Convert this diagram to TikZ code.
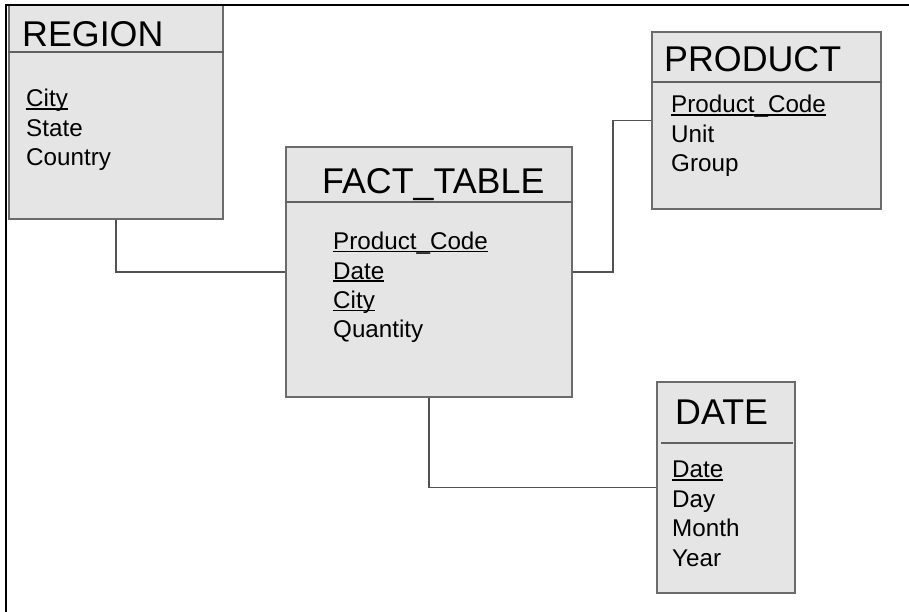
\documentclass[tikz,border=0pt]{standalone}
\usepackage{fontspec}
\setmainfont{Liberation Sans}
\usetikzlibrary{positioning}
% key attribute: underlined just under the baseline
\newcommand{\pk}[1]{\setbox0\hbox{#1}\rlap{\rule[-2.6pt]{\wd0}{1.5pt}}\box0}
\tikzset{
  tablebox/.style={draw=black!58, fill=black!10, line width=1.5pt, inner sep=0pt},
  sepline/.style={draw=black!62, line width=1.4pt},
  titletext/.style={font=\fontsize{35.8}{42}\selectfont, anchor=base west, inner sep=0pt},
  fieldtext/.style={font=\fontsize{24.2}{29}\selectfont, anchor=base west, inner sep=0pt},
  link/.style={draw=black!68, line width=1.5pt}
}
\begin{document}
\begin{tikzpicture}[x=1pt, y=-1pt]
\useasboundingbox (0,0) rectangle (909,612);

% tables
\node[tablebox, minimum width=214pt, minimum height=214pt] (region) at (116,112) {};
\node[tablebox, minimum width=286pt, minimum height=250pt] (fact) at (429,272) {};
\node[tablebox, minimum width=229pt, minimum height=177pt] (product) at (766.5,120.5) {};
\node[tablebox, minimum width=138pt, minimum height=211pt] (date) at (726,487.5) {};

% title rows
\draw[sepline] (region.west |- 0,52) -- (region.east |- 0,52);
\draw[sepline] (fact.west |- 0,202) -- (fact.east |- 0,202);
\draw[sepline] (product.west |- 0,82) -- (product.east |- 0,82);
\draw[sepline] ([xshift=5pt]date.west |- 0,443) -- ([xshift=-3pt]date.east |- 0,443);

\node[titletext] (region-title) at (22,47) {REGION};
\node[titletext] (fact-title) at (322,194) {FACT\_TABLE};
\node[titletext] (product-title) at (664,72) {PRODUCT};
\node[titletext] (date-title) at (675,424) {DATE};

% attributes
\foreach \f [count=\i] in {\pk{City},State,Country}
  \node[fieldtext] (region-f\i) at (26,{77.5+29.5*\i}) {\f};
\foreach \f [count=\i] in {\pk{Product\_Code},\pk{Date},\pk{City},Quantity}
  \node[fieldtext] (fact-f\i) at (333,{220.5+29.3*\i}) {\f};
\foreach \f [count=\i] in {\pk{Product\_Code},Unit,Group}
  \node[fieldtext] (product-f\i) at (671,{83.5+29.5*\i}) {\f};
\foreach \f [count=\i] in {\pk{Date},Day,Month,Year}
  \node[fieldtext] (date-f\i) at (672,{448.5+29.4*\i}) {\f};

% relations
\draw[link] (region.south) |- (fact.west);
\draw[link] (fact.east) -- ++(40,0) |- (product.west);
\draw[link] (fact.south) |- (date.west);

% outer frame
\draw[line width=2.5pt] (6,612) -- (6,5) -- (909,5);
\end{tikzpicture}
\end{document}
